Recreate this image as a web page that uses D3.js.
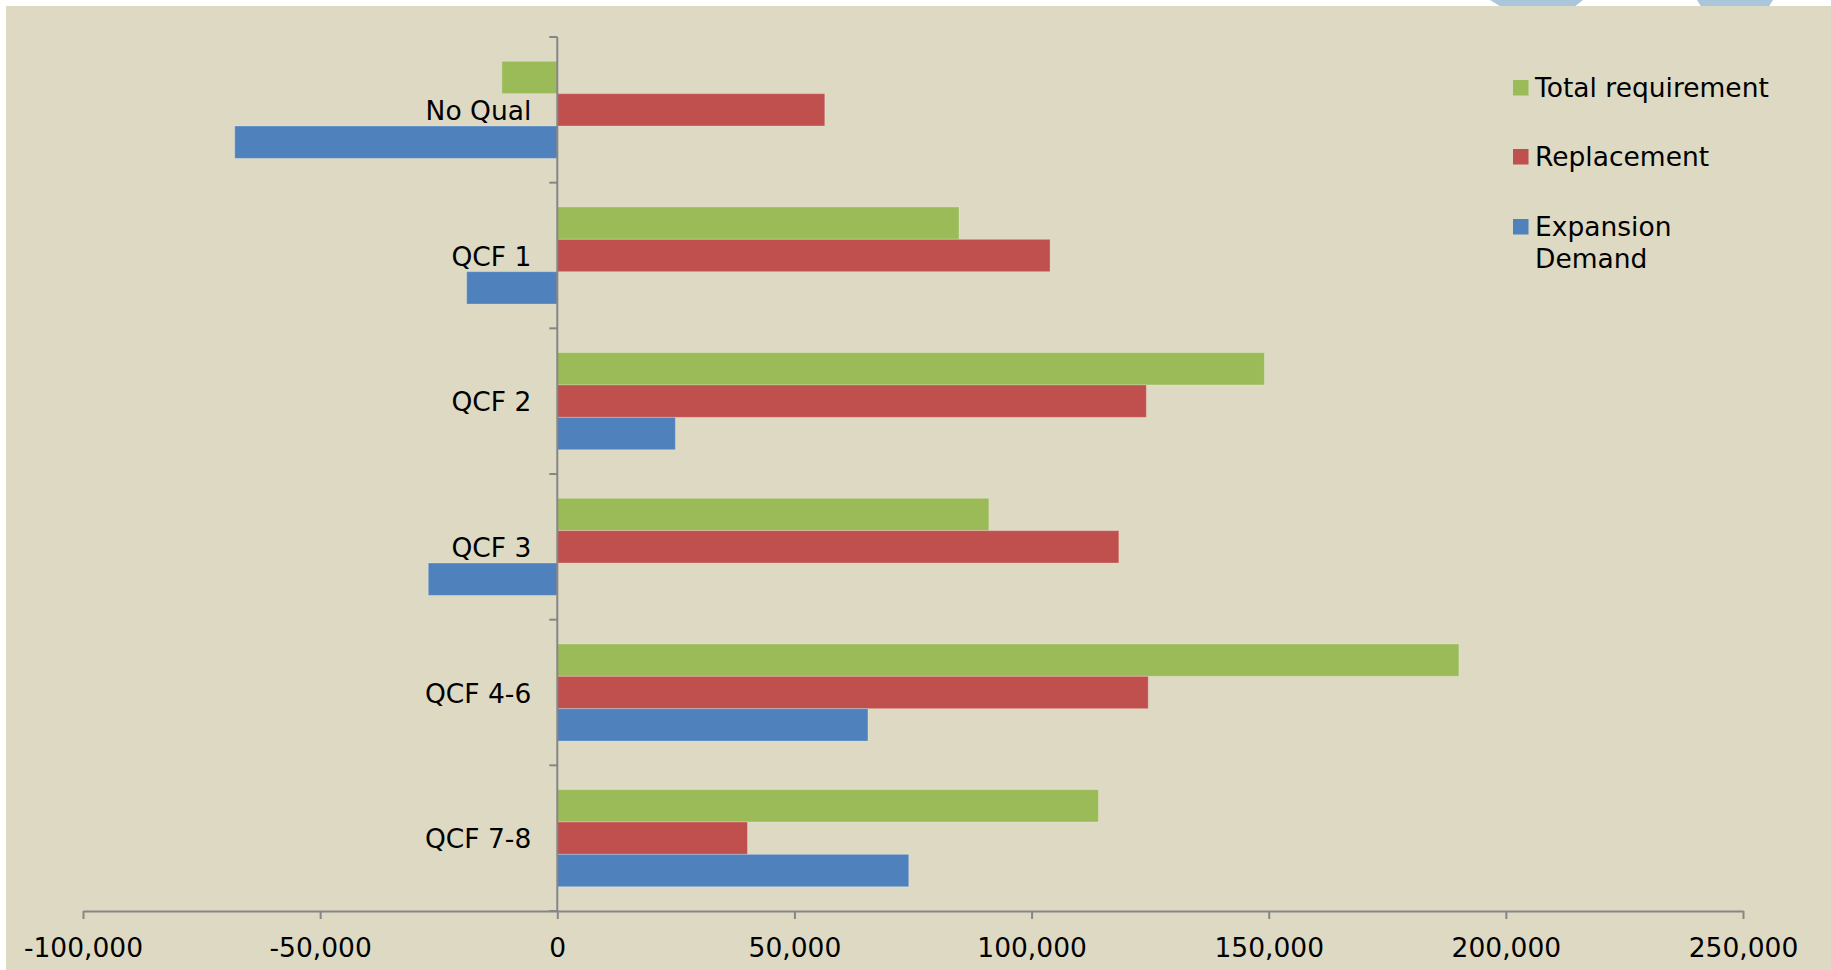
<!DOCTYPE html>
<html>
<head>
<meta charset="utf-8">
<script src="https://cdn.jsdelivr.net/npm/d3@7"></script>
<style>
  html, body { margin: 0; padding: 0; background: #ffffff; }
  svg { display: block; }
  text { font-family: "DejaVu Sans", Verdana, sans-serif; fill: #000; }
</style>
</head>
<body>
<svg id="chart" width="1831" height="970"></svg>
<script>
// ---- data ----
const categories = ["No Qual", "QCF 1", "QCF 2", "QCF 3", "QCF 4-6", "QCF 7-8"];
const seriesNames = ["Total requirement", "Replacement", "Expansion Demand"];
const totalRequirement = [-11700, 84700, 149100, 91000, 190100, 114100];
const replacement      = [56400, 103900, 124200, 118400, 124600, 40100];
const expansionDemand  = [-68000, -19100, 24900, -27200, 65500, 74100];
const xTicks = [-100000, -50000, 0, 50000, 100000, 150000, 200000, 250000];
const seriesColors = ["#9BBB59", "#C0504D", "#4F81BD"];

const seriesValues = [totalRequirement, replacement, expansionDemand];

const svg = d3.select("#chart");
const W = 1831, H = 970;
const FS = "26.5px";

// decorative light-blue shapes peeking at the top right
const deco = [
  [[1490, 0], [1583, 0], [1573, 8], [1503, 8]],
  [[1697, 0], [1773, 0], [1768, 8], [1702, 8]]
];
svg.selectAll("polygon.deco").data(deco).join("polygon")
  .attr("class", "deco")
  .attr("points", d => d.map(p => p.join(",")).join(" "))
  .attr("fill", "#A9C6DA");

// background panel
svg.append("rect").attr("x", 6).attr("y", 6).attr("width", W - 6).attr("height", H - 6)
  .attr("fill", "#DDD9C3");

// scales
const x = d3.scaleLinear().domain([-100000, 250000]).range([83, 1743]);
const y0 = d3.scaleBand().domain(categories).range([37, 911]).padding(0);
const y1 = d3.scaleBand().domain(seriesNames).range([0, y0.bandwidth()])
  .paddingInner(0).paddingOuter(0.75);

// bars
const rows = [];
categories.forEach((c, i) => {
  seriesNames.forEach((s, j) => {
    rows.push({ cat: c, ser: s, val: seriesValues[j][i], color: seriesColors[j] });
  });
});
svg.append("g").selectAll("rect").data(rows).join("rect")
  .attr("x", d => x(Math.min(0, d.val)))
  .attr("y", d => y0(d.cat) + y1(d.ser))
  .attr("width", d => Math.abs(x(d.val) - x(0)))
  .attr("height", y1.bandwidth())
  .attr("fill", d => d.color)
  .attr("stroke", "rgba(255,255,255,0.25)")
  .attr("stroke-width", 1);

const axisColor = "#868686";
const fmt = d3.format(",");
const tickFmt = v => fmt(v).replace("\u2212", "-");

// x axis
const xAxis = svg.append("g").attr("transform", `translate(0,${y0.range()[1]})`)
  .call(d3.axisBottom(x).tickValues(xTicks).tickFormat(tickFmt).tickSize(8).tickSizeOuter(0).tickPadding(19));
xAxis.select(".domain").attr("stroke", axisColor).attr("stroke-width", 2);
xAxis.selectAll(".tick line").attr("stroke", axisColor).attr("stroke-width", 2);
xAxis.selectAll(".tick text").style("font-size", FS).style("font-family", '"DejaVu Sans", Verdana, sans-serif').attr("fill", "#000");

// y axis (line at x=0 with ticks at category boundaries)
const yg = svg.append("g");
yg.append("line")
  .attr("x1", x(0)).attr("x2", x(0))
  .attr("y1", y0.range()[0]).attr("y2", y0.range()[1])
  .attr("stroke", axisColor).attr("stroke-width", 2);
const bounds = categories.map(c => y0(c)).concat([y0.range()[1]]);
yg.selectAll("line.tk").data(bounds).join("line")
  .attr("class", "tk")
  .attr("x1", x(0) - 8).attr("x2", x(0))
  .attr("y1", d => d).attr("y2", d => d)
  .attr("stroke", axisColor).attr("stroke-width", 2);
yg.selectAll("text").data(categories).join("text")
  .attr("x", x(0) - 26)
  .attr("y", d => y0(d) + y0.bandwidth() / 2 + 10)
  .attr("text-anchor", "end")
  .style("font-size", FS)
  .text(d => d);

// legend
const legendItems = [
  { lines: ["Total requirement"], color: seriesColors[0], top: 80 },
  { lines: ["Replacement"], color: seriesColors[1], top: 149 },
  { lines: ["Expansion", "Demand"], color: seriesColors[2], top: 219 }
];
const lg = svg.append("g");
legendItems.forEach(it => {
  lg.append("rect").attr("x", 1513).attr("y", it.top).attr("width", 15.5).attr("height", 15.5)
    .attr("fill", it.color);
  const t = lg.append("text").attr("x", 1535).attr("y", it.top + 17).style("font-size", FS);
  it.lines.forEach((ln, k) => {
    t.append("tspan").attr("x", 1535).attr("dy", k === 0 ? 0 : 31.7).text(ln);
  });
});
</script>
</body>
</html>
